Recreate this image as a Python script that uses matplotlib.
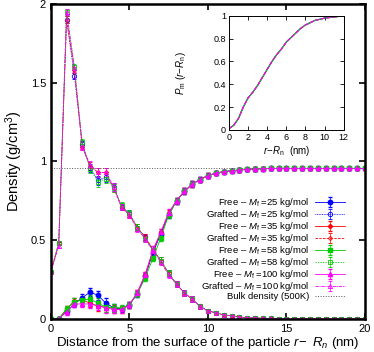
import matplotlib
matplotlib.use("Agg")
import matplotlib.pyplot as plt
import numpy as np

plt.rcParams['font.family'] = ['Liberation Sans', 'DejaVu Sans']
plt.rcParams['mathtext.fontset'] = 'custom'
plt.rcParams['mathtext.rm'] = 'Liberation Sans'
plt.rcParams['mathtext.it'] = 'Liberation Sans:italic'

# distance from surface (nm), 0..20 step 0.5
dist = np.arange(0, 20.01, 0.5)

# free chains, values for 0..7.5 nm
free_25_head = [0, 0, 0.05, 0.095, 0.135, 0.17, 0.15, 0.10, 0.07, 0.065, 0.09, 0.16, 0.27, 0.42, 0.54, 0.66]
free_35_head = [0, 0, 0.06, 0.115, 0.12, 0.10, 0.08, 0.075, 0.065, 0.06, 0.09, 0.165, 0.28, 0.43, 0.55, 0.67]
free_58_head = [0, 0, 0.065, 0.11, 0.12, 0.125, 0.10, 0.075, 0.072, 0.07, 0.09, 0.16, 0.26, 0.385, 0.515, 0.66]
free_100_head = [0, 0, 0.045, 0.095, 0.095, 0.095, 0.085, 0.07, 0.06, 0.06, 0.09, 0.165, 0.28, 0.44, 0.55, 0.675]
# free chains, 8..20 nm (all nearly identical)
free_tail = [0.75, 0.81, 0.855, 0.885, 0.91, 0.925, 0.935, 0.94, 0.945, 0.95, 0.952, 0.954, 0.955,
             0.955, 0.955, 0.955, 0.955, 0.955, 0.955, 0.955, 0.955, 0.955, 0.955, 0.955, 0.955]

# grafted chains, values for 0..7.5 nm
graft_25_head = [0.30, 0.48, 1.90, 1.54, 1.11, 0.96, 0.88, 0.90, 0.84, 0.71, 0.67, 0.58, 0.52, 0.44, 0.37, 0.29]
graft_35_head = [0.30, 0.48, 1.90, 1.58, 1.09, 0.97, 0.93, 0.93, 0.83, 0.71, 0.66, 0.58, 0.52, 0.44, 0.37, 0.29]
graft_58_head = [0.30, 0.48, 1.95, 1.60, 1.12, 0.95, 0.87, 0.89, 0.83, 0.72, 0.67, 0.58, 0.51, 0.44, 0.37, 0.29]
graft_100_head = [0.30, 0.46, 1.95, 1.59, 1.09, 0.98, 0.93, 0.93, 0.84, 0.71, 0.66, 0.57, 0.51, 0.43, 0.36, 0.28]
graft_tail = [0.22, 0.165, 0.125, 0.08, 0.05, 0.04, 0.025, 0.02, 0.012, 0.008, 0.006, 0.004, 0.003,
              0.002, 0.002, 0.001, 0.001, 0, 0, 0, 0, 0, 0, 0, 0]

# error bars
err = [0.005, 0.01, 0.02, 0.02, 0.02, 0.025, 0.03, 0.03, 0.025, 0.02, 0.02, 0.02, 0.02, 0.02, 0.02, 0.02,
       0.02, 0.02, 0.02, 0.015, 0.015, 0.012, 0.01, 0.01, 0.01, 0.01, 0.01, 0.01, 0.01,
       0.01, 0.01, 0.01, 0.01, 0.01, 0.01, 0.01, 0.01, 0.01, 0.01, 0.01, 0.01]

bulk_density = 0.96

# inset: cumulative distribution
inset_x = np.arange(0, 12.01, 0.5)
inset_y = [0.01, 0.04, 0.1, 0.2, 0.28, 0.33, 0.39, 0.46, 0.53, 0.6, 0.66, 0.71, 0.77,
           0.81, 0.85, 0.89, 0.92, 0.94, 0.96, 0.97, 0.98, 0.985, 0.99, 0.995, 1.0]

masses = ['25', '35', '58', '100']
colors = ['#0000ff', '#ff0000', '#00cc00', '#ff00ff']
markers = ['o', 'D', 's', '^']
msizes = [3.2, 2.2, 3.2, 3.0]
free_heads = [free_25_head, free_35_head, free_58_head, free_100_head]
graft_heads = [graft_25_head, graft_35_head, graft_58_head, graft_100_head]
graft_ls = [(0, (1, 1)), (0, (3, 1.5)), (0, (1.5, 1.5)), (0, (4, 1, 1, 1))]

fig = plt.figure(figsize=(3.74, 3.52), dpi=100)
ax = fig.add_axes([0.136, 0.094, 0.840, 0.895])

for i, m in enumerate(masses):
    ax.errorbar(dist, free_heads[i] + free_tail, yerr=err, color=colors[i], marker=markers[i],
                ms=msizes[i], lw=0.6, elinewidth=0.5, capsize=1.5, mec=colors[i],
                label=r'Free – $M_{\rm f}$ =' + m + ' kg/mol')
    ax.errorbar(dist, graft_heads[i] + graft_tail, yerr=err, color=colors[i], marker=markers[i],
                ms=msizes[i], lw=0.6, ls=graft_ls[i], elinewidth=0.5, capsize=1.5,
                mfc='none', mec=colors[i], mew=0.6,
                label=r'Grafted – $M_{\rm f}$ =' + m + ' kg/mol')

ax.axhline(bulk_density, color='#555555', ls=':', lw=0.7, label='Bulk density (500K)')

ax.set_xlim(0, 20)
ax.set_ylim(0, 2)
ax.set_xticks([0, 5, 10, 15, 20])
ax.set_yticks([0, 0.5, 1, 1.5, 2])
ax.set_yticklabels(['0', '0.5', '1', '1.5', '2'])
ax.tick_params(direction='in', top=True, right=True, labelsize=8, length=4, width=1.2)
for s in ax.spines.values():
    s.set_linewidth(1.8)
ax.set_xlabel(r'Distance from the surface of the particle $r\!-\ R_n$ (nm)', fontsize=9.5, labelpad=1)
ax.set_ylabel(r'Density (g/cm$^3$)', fontsize=10.5, labelpad=4)

handles, labels = ax.get_legend_handles_labels()
# put bulk density last
order = [i for i, l in enumerate(labels) if not l.startswith('Bulk')] + \
        [i for i, l in enumerate(labels) if l.startswith('Bulk')]
leg = ax.legend([handles[i] for i in order], [labels[i] for i in order],
                loc='lower right', bbox_to_anchor=(0.955, 0.04), fontsize=6.8, frameon=False,
                handlelength=3.2, handletextpad=0.6, labelspacing=-0.11, borderpad=0.1,
                handleheight=0.4)
vp = leg._legend_box._children[-1]._children[0]
for c in vp._children:
    c._children.reverse()
vp.align = "right"

# inset
axi = fig.add_axes([0.612, 0.631, 0.307, 0.324])
for i in range(4):
    axi.plot(inset_x, inset_y, color=colors[i], lw=0.8, ls='--' if i % 2 else '-')
axi.set_xlim(0, 12)
axi.set_ylim(0, 1)
axi.set_xticks([0, 2, 4, 6, 8, 10, 12])
axi.set_yticks([0, 0.2, 0.4, 0.6, 0.8, 1])
axi.set_yticklabels(['0', '0.2', '0.4', '0.6', '0.8', '1'])
axi.tick_params(direction='in', top=True, right=True, labelsize=6.5, length=3, width=0.6, pad=2)
for s in axi.spines.values():
    s.set_linewidth(0.7)
axi.set_xlabel(r'$r\!-\!R_{\rm n}$  (nm)', fontsize=7, labelpad=2)
axi.set_ylabel(r'$P_{\rm m}$ $(r\!-\!R_{\rm n})$', fontsize=7)
axi.yaxis.set_label_coords(-0.36, 0.5)

fig.savefig('out.png', dpi=100)
